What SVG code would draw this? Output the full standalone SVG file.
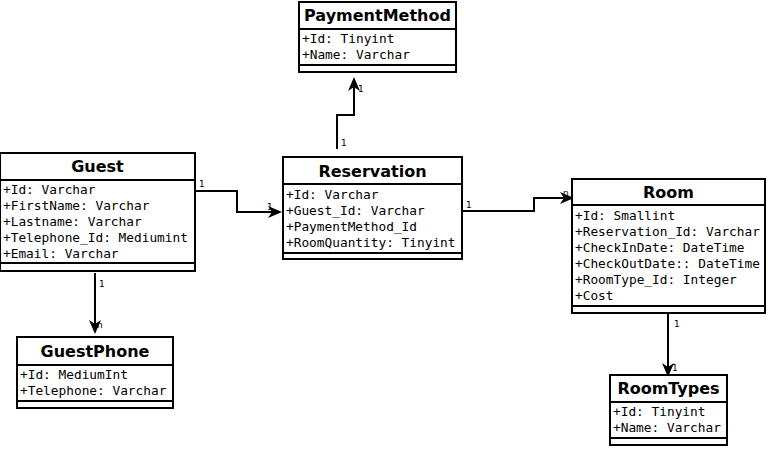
<svg xmlns="http://www.w3.org/2000/svg" width="768" height="449" viewBox="0 0 768 449">
<style>
.box{fill:#fff;stroke:#000;stroke-width:2}
.ln{stroke:#000;stroke-width:2;fill:none}
.t{font-family:"DejaVu Sans",sans-serif;font-weight:bold;font-size:16px;text-anchor:middle;fill:#000}
.a{font-family:"DejaVu Sans Mono",monospace;font-size:12.8px;fill:#000}
.c{stroke:#000;stroke-width:2;fill:none;marker-end:url(#arr)}
.m{font-family:"DejaVu Sans",sans-serif;font-size:9px;fill:#000}
</style>
<defs>
<marker id="arr" markerWidth="14" markerHeight="12" viewBox="0 0 14 12" refX="12" refY="6" orient="auto" markerUnits="userSpaceOnUse">
<path d="M0,0 L14,6 L0,12 L4,6 Z" fill="#000"/>
</marker>
</defs>
<rect width="768" height="449" fill="#fff"/>
<g id="connectors">
<polyline class="c" points="195,191 237,191 237,212 280,212"/>
<polyline class="c" points="337,149 337,115 354,115 354,79"/>
<polyline class="c" points="462,211 534,211 534,198 572,198"/>
<polyline class="c" points="95,273 95,332"/>
<polyline class="c" points="668,314 668,375"/>
<text class="m" x="199" y="187">1</text>
<text class="m" x="267" y="210">1</text>
<text class="m" x="341" y="146">1</text>
<text class="m" x="358" y="92">1</text>
<text class="m" x="466" y="208">1</text>
<text class="m" x="563" y="196">n</text>
<text class="m" x="99" y="287">1</text>
<text class="m" x="97" y="328">n</text>
<text class="m" x="674" y="327">1</text>
<text class="m" x="672" y="371">1</text>
</g>
<g id="Guest">
<rect class="box" x="0" y="153" width="195" height="118"/>
<line class="ln" x1="0" y1="180" x2="195" y2="180"/>
<line class="ln" x1="0" y1="263" x2="195" y2="263"/>
<text class="t" x="97.5" y="172">Guest</text>
<text class="a" x="3" y="194">+Id: Varchar</text>
<text class="a" x="3" y="210">+FirstName: Varchar</text>
<text class="a" x="3" y="226">+Lastname: Varchar</text>
<text class="a" x="3" y="242">+Telephone_Id: Mediumint</text>
<text class="a" x="3" y="258">+Email: Varchar</text>
</g>
<g id="PaymentMethod">
<rect class="box" x="299" y="2" width="157" height="70"/>
<line class="ln" x1="299" y1="29" x2="456" y2="29"/>
<line class="ln" x1="299" y1="65" x2="456" y2="65"/>
<text class="t" x="377.5" y="21">PaymentMethod</text>
<text class="a" x="302" y="43">+Id: Tinyint</text>
<text class="a" x="302" y="59">+Name: Varchar</text>
</g>
<g id="Reservation">
<rect class="box" x="283" y="157" width="179" height="102"/>
<line class="ln" x1="283" y1="184" x2="462" y2="184"/>
<line class="ln" x1="283" y1="253" x2="462" y2="253"/>
<text class="t" x="372.5" y="177">Reservation</text>
<text class="a" x="286" y="199">+Id: Varchar</text>
<text class="a" x="286" y="215">+Guest_Id: Varchar</text>
<text class="a" x="286" y="231">+PaymentMethod_Id</text>
<text class="a" x="286" y="247">+RoomQuantity: Tinyint</text>
</g>
<g id="Room">
<rect class="box" x="572" y="179" width="193" height="134"/>
<line class="ln" x1="572" y1="205" x2="765" y2="205"/>
<line class="ln" x1="572" y1="306" x2="765" y2="306"/>
<text class="t" x="668.5" y="198">Room</text>
<text class="a" x="575" y="220">+Id: Smallint</text>
<text class="a" x="575" y="236">+Reservation_Id: Varchar</text>
<text class="a" x="575" y="252">+CheckInDate: DateTime</text>
<text class="a" x="575" y="268">+CheckOutDate:: DateTime</text>
<text class="a" x="575" y="284">+RoomType_Id: Integer</text>
<text class="a" x="575" y="300">+Cost</text>
</g>
<g id="GuestPhone">
<rect class="box" x="17" y="337" width="156" height="71"/>
<line class="ln" x1="17" y1="365" x2="173" y2="365"/>
<line class="ln" x1="17" y1="401" x2="173" y2="401"/>
<text class="t" x="95" y="357">GuestPhone</text>
<text class="a" x="20" y="379">+Id: MediumInt</text>
<text class="a" x="20" y="395">+Telephone: Varchar</text>
</g>
<g id="RoomTypes">
<rect class="box" x="610" y="375" width="117" height="70"/>
<line class="ln" x1="610" y1="402" x2="727" y2="402"/>
<line class="ln" x1="610" y1="438" x2="727" y2="438"/>
<text class="t" x="668.5" y="394">RoomTypes</text>
<text class="a" x="613" y="416">+Id: Tinyint</text>
<text class="a" x="613" y="432">+Name: Varchar</text>
</g>
</svg>
